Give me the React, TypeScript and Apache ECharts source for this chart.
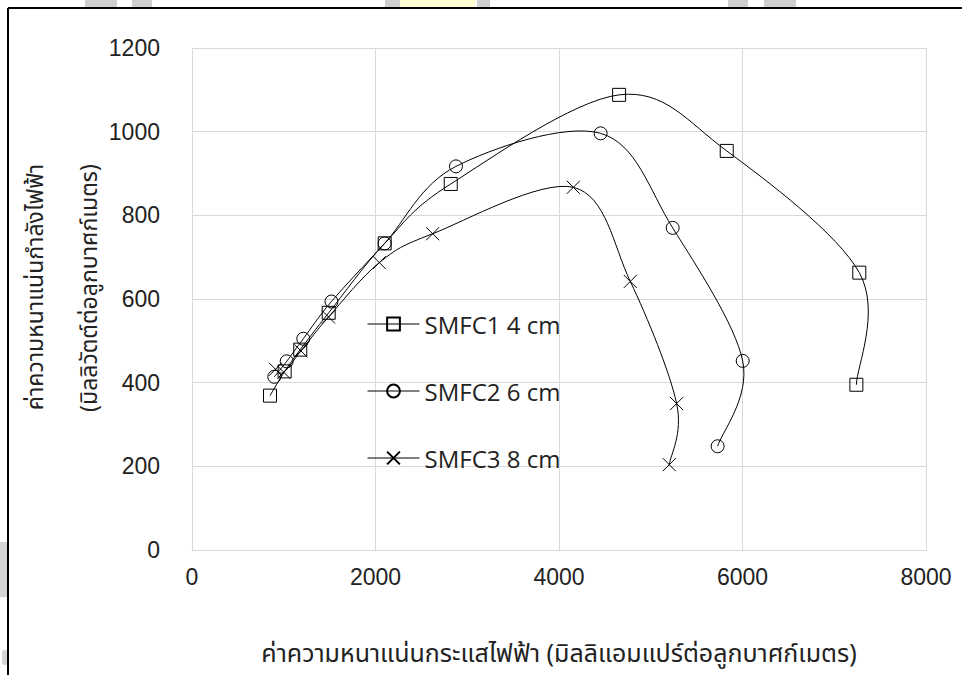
import React, { useEffect, useRef } from "react";
import * as echarts from "echarts";

const seriesNames = ["SMFC1 4 cm", "SMFC2 6 cm", "SMFC3 8 cm"];

const smfc1: [number, number][] = [
  [850, 369], [1010, 427], [1180, 479], [1490, 567], [2100, 733],
  [2820, 875], [4655, 1088], [5828, 954], [7273, 663], [7241, 395],
];
const smfc2: [number, number][] = [
  [897, 414], [1032, 451], [1213, 505], [1520, 594], [2100, 733],
  [2877, 917], [4454, 996], [5239, 770], [6002, 452], [5729, 248],
];
const smfc3: [number, number][] = [
  [910, 432], [1000, 425], [1188, 476], [1488, 557], [2042, 687],
  [2623, 756], [4156, 867], [4777, 642], [5282, 350], [5202, 204],
];

const xTitle = "ค่าความหนาแน่นกระแสไฟฟ้า (มิลลิแอมแปร์ต่อลูกบาศก์เมตร)";
const yTitle1 = "ค่าความหนาแน่นกำลังไฟฟ้า";
const yTitle2 = "(มิลลิวัตต์ต่อลูกบาศก์เมตร)";

const SQUARE = "path://M0,0H10V10H0Z";
const CIRCLE = "path://M10,5A5,5,0,1,1,0,5A5,5,0,1,1,10,5Z";
const CROSS = "path://M0,0L10,10M10,0L0,10";

const numFont = "'Liberation Sans', Arial, sans-serif";
const thaiFont = "'Noto Sans Thai', 'Leelawadee UI', Tahoma, sans-serif";

export default function App() {
  const ref = useRef<HTMLDivElement>(null);
  useEffect(() => {
    if (!ref.current) return;
    const chart = echarts.init(ref.current, undefined, { renderer: "svg" });
    const markers = (name: string, data: [number, number][], symbol: string) => ({
      name,
      type: "line",
      data,
      symbol,
      symbolSize: 13,
      symbolKeepAspect: true,
      z: 3,
      lineStyle: { color: "#000", width: 0, opacity: 0 },
      itemStyle: { color: "rgba(0,0,0,0)", borderColor: "#000", borderWidth: 1 },
      emphasis: { disabled: true },
    });
    // Excel-like smoothed curve (Catmull-Rom Bezier) through the points, via the chart's own scales
    const curve = (name: string, pts: [number, number][]) => ({
      name: name + " curve",
      type: "custom",
      data: pts,
      silent: true,
      z: 2,
      encode: { x: 0, y: 1 },
      renderItem: (params: any, api: any) => {
        if (params.dataIndex !== 0) return null;
        const p: number[][] = pts.map((pt) => api.coord(pt));
        let d = `M${p[0][0]},${p[0][1]}`;
        for (let i = 0; i < p.length - 1; i++) {
          const p0 = p[i - 1] || p[i];
          const p1 = p[i];
          const p2 = p[i + 1];
          const p3 = p[i + 2] || p[i + 1];
          const c1x = p1[0] + (p2[0] - p0[0]) / 6;
          const c1y = p1[1] + (p2[1] - p0[1]) / 6;
          const c2x = p2[0] - (p3[0] - p1[0]) / 6;
          const c2y = p2[1] - (p3[1] - p1[1]) / 6;
          d += `C${c1x},${c1y},${c2x},${c2y},${p2[0]},${p2[1]}`;
        }
        return {
          type: "path",
          shape: { pathData: d },
          style: { fill: "none", stroke: "#000", lineWidth: 1 },
        };
      },
    });
    chart.setOption({
      animation: false,
      backgroundColor: "#fff",
      grid: { left: 192, right: 36, top: 48, bottom: 125, containLabel: false },
      legend: {
        orient: "vertical",
        left: 362,
        top: 307,
        itemWidth: 52,
        itemHeight: 16,
        itemGap: 43,
        data: seriesNames,
        lineStyle: { color: "#000", width: 1, opacity: 1, type: "solid" },
        textStyle: { fontFamily: "'Open Sans', sans-serif", fontSize: 24, lineHeight: 24, color: "#222" },
      },
      xAxis: {
        type: "value",
        min: 0,
        max: 8000,
        interval: 2000,
        axisLine: { show: true, lineStyle: { color: "#d9d9d9", width: 1 } },
        axisTick: { show: false },
        splitLine: { show: true, lineStyle: { color: "#d9d9d9", width: 1 } },
        axisLabel: { margin: 15, fontFamily: numFont, fontSize: 23, color: "#222", formatter: (v: number) => String(v) },
        name: xTitle,
        nameLocation: "middle",
        nameGap: 91,
        nameTextStyle: { fontFamily: thaiFont, fontSize: 25, color: "#222" },
      },
      yAxis: {
        type: "value",
        min: 0,
        max: 1200,
        interval: 200,
        axisLine: { show: false },
        axisTick: { show: false },
        splitLine: { show: true, lineStyle: { color: "#d9d9d9", width: 1 } },
        axisLabel: { margin: 32, fontFamily: numFont, fontSize: 23, color: "#222", formatter: (v: number) => String(v) },
      },
      graphic: [
        { type: "rect", shape: { x: 85, y: 0, width: 32, height: 7 }, style: { fill: "#cfcfcf" }, silent: true },
        { type: "rect", shape: { x: 132, y: 0, width: 20, height: 7 }, style: { fill: "#cfcfcf" }, silent: true },
        { type: "rect", shape: { x: 385, y: 0, width: 15, height: 7 }, style: { fill: "#cfcfcf" }, silent: true },
        { type: "rect", shape: { x: 400, y: 0, width: 75, height: 7 }, style: { fill: "#fffccf" }, silent: true },
        { type: "rect", shape: { x: 477, y: 0, width: 13, height: 7 }, style: { fill: "#cfcfcf" }, silent: true },
        { type: "rect", shape: { x: 728, y: 0, width: 20, height: 7 }, style: { fill: "#cfcfcf" }, silent: true },
        { type: "rect", shape: { x: 764, y: 0, width: 32, height: 7 }, style: { fill: "#cfcfcf" }, silent: true },
        { type: "rect", shape: { x: 0, y: 542, width: 8, height: 55 }, style: { fill: "#d4d4d4" }, silent: true },
        { type: "rect", shape: { x: 2, y: 650, width: 6, height: 15, r: 3 }, style: { fill: "#d4d4d4" }, silent: true },
        { type: "line", shape: { x1: 8, y1: 8, x2: 962, y2: 8 }, style: { stroke: "#000", lineWidth: 2 }, silent: true },
        { type: "line", shape: { x1: 8, y1: 8, x2: 8, y2: 675 }, style: { stroke: "#000", lineWidth: 2 }, silent: true },
        {
          type: "text", x: 36, y: 287, rotation: Math.PI / 2, silent: true,
          style: { text: yTitle1, fontFamily: thaiFont, fontSize: 23, fill: "#222", textAlign: "center", textVerticalAlign: "middle" },
        },
        {
          type: "text", x: 90, y: 288, rotation: Math.PI / 2, silent: true,
          style: { text: yTitle2, fontFamily: thaiFont, fontSize: 23, fill: "#222", textAlign: "center", textVerticalAlign: "middle" },
        },
      ],
      series: [
        curve(seriesNames[0], smfc1),
        curve(seriesNames[1], smfc2),
        curve(seriesNames[2], smfc3),
        markers(seriesNames[0], smfc1, SQUARE),
        markers(seriesNames[1], smfc2, CIRCLE),
        markers(seriesNames[2], smfc3, CROSS),
      ],
    });
    return () => chart.dispose();
  }, []);
  return (
    <div
      ref={ref}
      style={{ position: "fixed", left: 0, top: 0, width: 962, height: 675, background: "#fff" }}
    />
  );
}
